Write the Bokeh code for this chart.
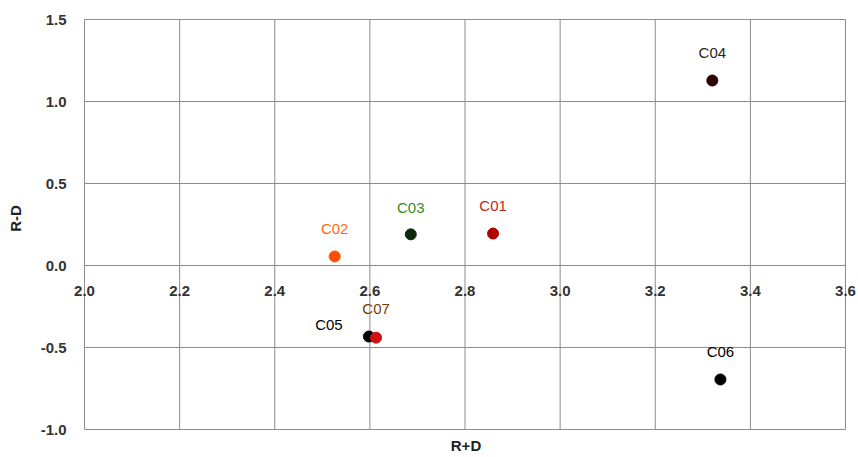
from bokeh.plotting import figure
from bokeh.models import ColumnDataSource, LabelSet, Label
from bokeh.core.properties import value
from bokeh.embed import file_html
from bokeh.resources import INLINE
import math

# data
names = ["C01", "C02", "C03", "C04", "C05", "C06", "C07"]
r_plus_d = [2.859, 2.526, 2.686, 3.320, 2.598, 3.337, 2.613]
r_minus_d = [0.195, 0.055, 0.190, 1.128, -0.433, -0.695, -0.440]

x_ticks = [2.0, 2.2, 2.4, 2.6, 2.8, 3.0, 3.2, 3.4, 3.6]
x_tick_labels = ["2.0", "2.2", "2.4", "2.6", "2.8", "3.0", "3.2", "3.4", "3.6"]
y_ticks = [-1.0, -0.5, 0.0, 0.5, 1.0, 1.5]
y_tick_labels = ["-1.0", "-0.5", "0.0", "0.5", "1.0", "1.5"]

x_title = "R+D"
y_title = "R-D"

# styles
dot_colors = ["#B00000", "#FF5000", "#0A2A0A", "#2A0000", "#000000", "#000000", "#D01010"]
label_colors = ["#C0281C", "#FF6A10", "#3A8A20", "#2E2412", "#000000", "#000000", "#7A3A00"]
label_dx = [0, 0, 0, 0, -40, 0, 0]
label_dy = [28, 28, 27, 28, 12, 28, 29]

FONT = "Liberation Sans"
GRID = "#8C8C8C"
TICK_COLOR = "#333333"

W, H = 858, 457
# plot area in pixels (left, top, right, bottom)
PL, PT, PR, PB = 84, 19, 845, 429
xs = (x_ticks[-1] - x_ticks[0]) / (PR - PL)
ys = (y_ticks[-1] - y_ticks[0]) / (PB - PT)
x_start = x_ticks[0] - PL * xs
x_end = x_ticks[-1] + (W - PR) * xs
y_end = y_ticks[-1] + PT * ys
y_start = y_ticks[0] - (H - PB) * ys

p = figure(width=W, height=H, x_range=(x_start, x_end), y_range=(y_start, y_end),
           x_axis_type=None, y_axis_type=None,
           output_backend="svg", toolbar_location=None, min_border=0)
p.outline_line_color = None
p.background_fill_color = "white"

# grid (also serves as axis lines at x=2.0 and y=0)
n, m = len(x_ticks), len(y_ticks)
p.segment(x0=x_ticks, y0=[y_ticks[0]] * n, x1=x_ticks, y1=[y_ticks[-1]] * n,
          line_color=GRID, line_width=1)
p.segment(x0=[x_ticks[0]] * m, y0=y_ticks, x1=[x_ticks[-1]] * m, y1=y_ticks,
          line_color=GRID, line_width=1)

# tick labels
xt = ColumnDataSource(dict(x=x_ticks, y=[0.0] * n, t=x_tick_labels))
p.add_layout(LabelSet(x="x", y="y", text="t", source=xt, text_align="center",
                      text_baseline="middle", y_offset=-25, text_font=value(FONT),
                      text_font_style="bold", text_font_size="15px", text_color=TICK_COLOR))
yt = ColumnDataSource(dict(x=[x_ticks[0]] * m, y=y_ticks, t=y_tick_labels))
p.add_layout(LabelSet(x="x", y="y", text="t", source=yt, text_align="right",
                      text_baseline="middle", x_offset=-18, text_font=value(FONT),
                      text_font_style="bold", text_font_size="15px", text_color=TICK_COLOR))

# axis titles
p.add_layout(Label(x=(x_ticks[0] + x_ticks[-1]) / 2, y=y_ticks[0], text=x_title,
                   x_offset=1, y_offset=-16, text_align="center", text_baseline="middle",
                   text_font=FONT, text_font_style="bold", text_font_size="15px",
                   text_color="#222222"))
p.add_layout(Label(x=x_ticks[0], y=(y_ticks[0] + y_ticks[-1]) / 2, text=y_title,
                   x_offset=-69, y_offset=6, angle=math.pi / 2, text_align="center",
                   text_baseline="middle", text_font=FONT, text_font_style="bold",
                   text_font_size="15px", text_color="#222222"))

# points
src = ColumnDataSource(dict(x=r_plus_d, y=r_minus_d, name=names, dc=dot_colors,
                            lc=label_colors, dx=label_dx, dy=label_dy))
p.scatter("x", "y", source=src, size=11, fill_color="dc", line_color="dc")
p.add_layout(LabelSet(x="x", y="y", text="name", source=src, x_offset="dx", y_offset="dy",
                      text_align="center", text_baseline="middle", text_font=value(FONT),
                      text_font_size="15px", text_color="lc"))

open("out.html", "w").write(file_html(p, INLINE))
